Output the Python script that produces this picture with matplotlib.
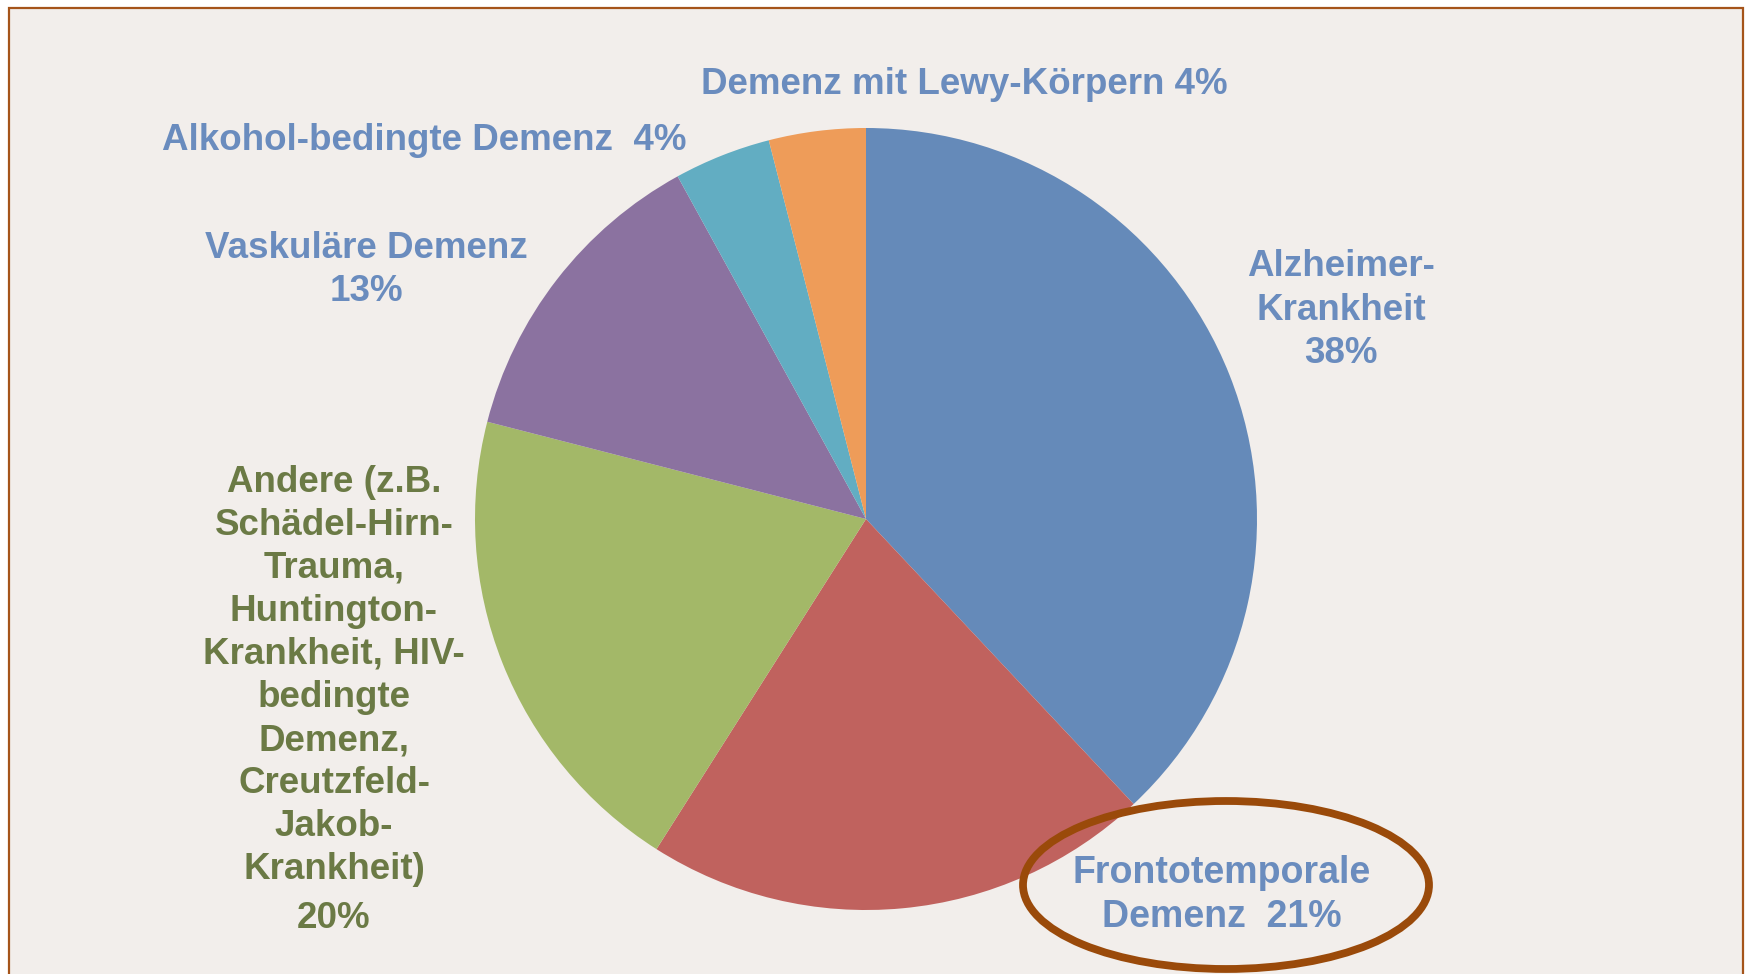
import matplotlib
matplotlib.use("Agg")
import matplotlib.pyplot as plt
from matplotlib.patches import Rectangle, Ellipse

# Anteile der Demenzformen (%), im Uhrzeigersinn ab 12 Uhr
labels = ["Alzheimer-Krankheit", "Frontotemporale Demenz", "Andere",
          "Vaskuläre Demenz", "Alkohol-bedingte Demenz", "Demenz mit Lewy-Körpern"]
values = [38, 21, 20, 13, 4, 4]
colors = ["#658AB9", "#C0625E", "#A3B868", "#8B72A0", "#62ADC2", "#EE9C59"]

label_texts = [
    "Alzheimer-\nKrankheit\n38%",
    "Frontotemporale\nDemenz  21%",
    "Andere (z.B.\nSchädel-Hirn-\nTrauma,\nHuntington-\nKrankheit, HIV-\nbedingte\nDemenz,\nCreutzfeld-\nJakob-\nKrankheit)",
    "Vaskuläre Demenz\n13%",
    "Alkohol-bedingte Demenz  4%",
    "Demenz mit Lewy-Körpern 4%",
]

W, H = 1746, 974
fig = plt.figure(figsize=(W / 100, H / 100), dpi=100)
fig.patch.set_facecolor("white")
ax = fig.add_axes([0, 0, 1, 1])

# Rahmen
ax.add_patch(Rectangle((9, -20), 1734, H - 8 + 20, facecolor="#F2EEEB",
                       edgecolor="#A5541A", lw=1.6, zorder=0))

cx, cy, r = 866, H - 519, 391
ax.pie(values, colors=colors, startangle=90, counterclock=False,
       center=(cx, cy), radius=r, frame=True,
       wedgeprops=dict(linewidth=0))
ax.set_xlim(0, W)
ax.set_ylim(0, H)
ax.axis("off")

blue = "#6A8CBE"
green = "#6B7A45"
fam = ["Liberation Sans", "DejaVu Sans"]
fs = 26.5
ls = 1.3

ax.text(1341, H - 310, label_texts[0], color=blue, fontsize=fs, fontweight="bold",
        family=fam, ha="center", va="center", linespacing=ls)
ax.text(1222, H - 895, label_texts[1], color=blue, fontsize=fs + 0.5, fontweight="bold",
        family=["Liberation Sans Narrow", "Liberation Sans"], ha="center", va="center",
        linespacing=1.3)
ax.text(334, H - 676, label_texts[2], color=green, fontsize=fs, fontweight="bold",
        family=fam, ha="center", va="center", linespacing=ls)
ax.text(334, H - 919, "20%", color=green, fontsize=fs, fontweight="bold",
        family=fam, ha="center", va="center")
ax.text(366, H - 270, label_texts[3], color=blue, fontsize=fs, fontweight="bold",
        family=fam, ha="center", va="center", linespacing=ls)
ax.text(424, H - 140, label_texts[4], color=blue, fontsize=fs, fontweight="bold",
        family=fam, ha="center", va="center")
ax.text(964, H - 85, label_texts[5], color=blue, fontsize=fs, fontweight="bold",
        family=fam, ha="center", va="center")

# Markierung
ax.add_patch(Ellipse((1226, H - 885), 406, 168, fill=False,
                     edgecolor="#9A4A0A", lw=5.6, zorder=5))

fig.savefig("out.png", dpi=100)
